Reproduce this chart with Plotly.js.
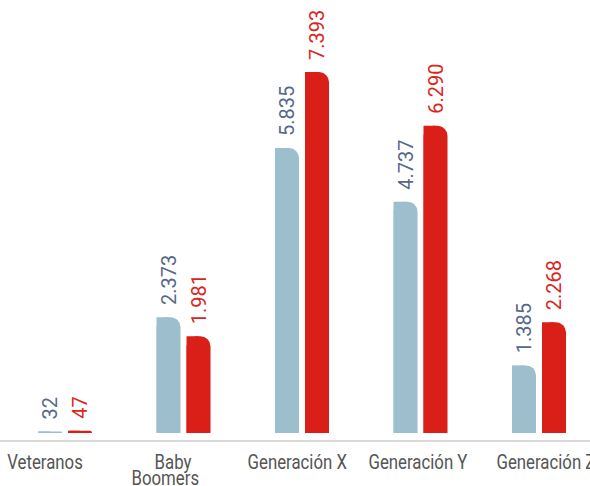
<!DOCTYPE html>
<html><head><meta charset="utf-8">
<script src="https://cdn.plot.ly/plotly-3.0.1.min.js"></script>
<style>html,body{margin:0;padding:0;background:#fff}#c{width:590px;height:486px}
#c .annotation text.annotation-text{transform-box:fill-box;transform-origin:center;transform:scaleX(0.84);}</style>
</head><body><div id="c"></div>
<script>
var categories = ["Veteranos", "Baby<br>Boomers", "Generación X", "Generación Y", "Generación Z"];
var seriesA = [32, 2373, 5835, 4737, 1385];
var seriesB = [47, 1981, 7393, 6290, 2268];

var blue = "#9cbecd", red = "#d91f17";
var blueText = "#56688a", redText = "#d9261c";
var fontFam = "Roboto, sans-serif";
var idx = categories.map(function(_, i){ return i; });

function barTrace(vals, color, tcolor, off, w, radius, withText){
  var t = {
    type: "bar", x: idx, y: vals, offset: off, width: w,
    marker: {color: color, cornerradius: radius, line: {width: 0}},
    hoverinfo: "skip", cliponaxis: false, showlegend: false
  };
  if (withText) {
    t.texttemplate = "\u00a0\u2009%{y:,}";
    t.textposition = "outside";
    t.textangle = -90;
    t.outsidetextfont = {family: fontFam, size: 20, color: tcolor};
    t.constraintext = "none";
  } else {
    t.textposition = "none";
  }
  return t;
}

var data = [
  barTrace(seriesA, blue, blueText, -0.228, 0.2025, 10, true),
  barTrace(seriesA, blue, blueText, -0.228, 0.1, 0, false),
  barTrace(seriesB, red, redText, 0.025, 0.2025, 10, true),
  barTrace(seriesB, red, redText, 0.025, 0.1, 0, false)
];

var labelShift = [-20, -18, -5, -3, 7];
var annotations = [];
categories.forEach(function(c, i){
  c.split("<br>").forEach(function(line, j){
    annotations.push({
      x: i, xref: "x", y: 0, yref: "paper", yanchor: "top",
      xshift: labelShift[i] + (j === 0 && c.indexOf("<br>") >= 0 ? 7 : 0), yshift: -8 - 16 * j,
      text: line, showarrow: false,
      font: {family: fontFam, size: 20, color: "#555"}
    });
  });
});

var layout = {
  width: 590, height: 486,
  margin: {l: 0, r: 0, t: 0, b: 46},
  paper_bgcolor: "#fff", plot_bgcolor: "#fff",
  barmode: "overlay",
  separators: ",.",
  showlegend: false,
  xaxis: {
    range: [-0.549, 4.43], showticklabels: false,
    showgrid: false, zeroline: false, showline: true, linecolor: "#d9d9d9", linewidth: 1.5,
    ticks: ""
  },
  yaxis: {range: [-143, 8867], visible: false, showgrid: false, zeroline: false},
  annotations: annotations,
  font: {family: fontFam}
};

Plotly.newPlot("c", data, layout, {displayModeBar: false, staticPlot: true});
</script></body></html>
